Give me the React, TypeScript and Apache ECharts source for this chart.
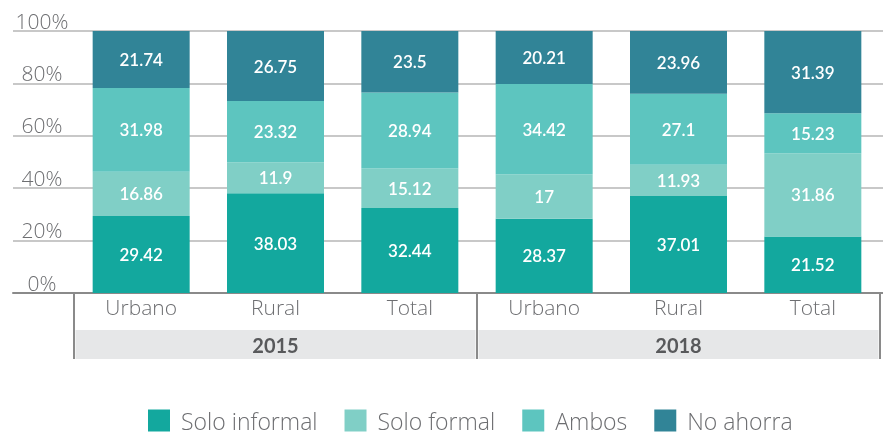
import React, { useEffect, useRef } from "react";
import * as echarts from "echarts";

const categories = ["Urbano", "Rural", "Total", "Urbano", "Rural", "Total"];
const years = ["2015", "2018"];
const yTicks = ["0%", "20%", "40%", "60%", "80%", "100%"];
const soloInformal = [29.42, 38.03, 32.44, 28.37, 37.01, 21.52];
const soloFormal = [16.86, 11.9, 15.12, 17, 11.93, 31.86];
const ambos = [31.98, 23.32, 28.94, 34.42, 27.1, 15.23];
const noAhorra = [21.74, 26.75, 23.5, 20.21, 23.96, 31.39];
const seriesNames = ["Solo informal", "Solo formal", "Ambos", "No ahorra"];
const colors = ["#13a89e", "#80cfc6", "#5dc5bf", "#318497"];

const FONT = "'Open Sans', Lato, sans-serif";
const BOLD = "Lato, 'Open Sans', sans-serif";

export default function App() {
  const ref = useRef<HTMLDivElement>(null);
  useEffect(() => {
    if (!ref.current) return;
    const chart = echarts.init(ref.current, null, { renderer: "svg" });
    const values = [soloInformal, soloFormal, ambos, noAhorra];
    chart.setOption({
      animation: false,
      textStyle: { fontFamily: FONT },
      grid: [
        { left: 13, right: 0, top: 31, bottom: 143 },
        { left: 74, right: 3, top: 31, bottom: 143 },
      ],
      xAxis: [
        {
          type: "value",
          gridIndex: 0,
          min: 0,
          max: 1,
          axisLine: { show: true, onZero: false, lineStyle: { color: "#8a8a8a", width: 2 } },
          axisTick: { show: false },
          axisLabel: { show: false },
          splitLine: { show: false },
        },
        {
          type: "category",
          gridIndex: 1,
          position: "bottom",
          data: categories,
          axisLine: { show: false },
          axisTick: { show: false },
          axisLabel: {
            margin: 3,
            fontSize: 21,
            fontWeight: 300,
            color: "#6d6e71",
            fontFamily: FONT,
          },
        },
        {
          type: "category",
          gridIndex: 1,
          position: "bottom",
          data: years,
          axisLine: { show: false },
          axisTick: {
            show: true,
            length: 66,
            lineStyle: { color: "#8a8a8a", width: 2 },
          },
          axisLabel: {
            margin: 37,
            fontSize: 20,
            fontWeight: 700,
            color: "#58595b",
            fontFamily: BOLD,
            backgroundColor: "#e6e7e8",
            width: 400,
            height: 29,
            lineHeight: 29,
            align: "center",
          },
        },
      ],
      yAxis: [
        {
          type: "value",
          gridIndex: 0,
          min: 0,
          max: 100,
          interval: 20,
          axisLine: { show: false },
          axisTick: { show: false },
          axisLabel: {
            inside: true,
            margin: 29,
            align: "center",
            verticalAlign: "bottom",
            fontSize: 21,
            fontWeight: 300,
            color: "#6d6e71",
            fontFamily: FONT,
            formatter: (v: number) => yTicks[Math.round(v / 20)],
          },
          splitLine: { show: true, lineStyle: { color: "#c8c8c8", width: 2 } },
        },
        {
          type: "value",
          gridIndex: 1,
          min: 0,
          max: 100,
          show: false,
        },
      ],
      legend: {
        left: 148,
        bottom: 4,
        padding: 0,
        itemWidth: 22,
        itemHeight: 22,
        itemGap: 27,
        icon: "rect",
        textStyle: {
          fontSize: 23,
          lineHeight: 22,
          fontWeight: 300,
          color: "#6d6e71",
          fontFamily: FONT,
          padding: [0, 0, 0, 6],
        },
        data: seriesNames,
      },
      series: seriesNames.map((name, i) => ({
        name,
        type: "bar",
        stack: "total",
        xAxisIndex: 1,
        yAxisIndex: 1,
        barWidth: 97,
        data: values[i],
        itemStyle: { color: colors[i] },
        label: {
          show: true,
          position: "inside",
          color: "#ffffff",
          fontSize: 17,
          fontWeight: 600,
          fontFamily: BOLD,
        },
      })),
    });
    return () => chart.dispose();
  }, []);
  return (
    <div
      ref={ref}
      style={{ position: "fixed", left: 0, top: 0, width: 883, height: 436 }}
    />
  );
}
